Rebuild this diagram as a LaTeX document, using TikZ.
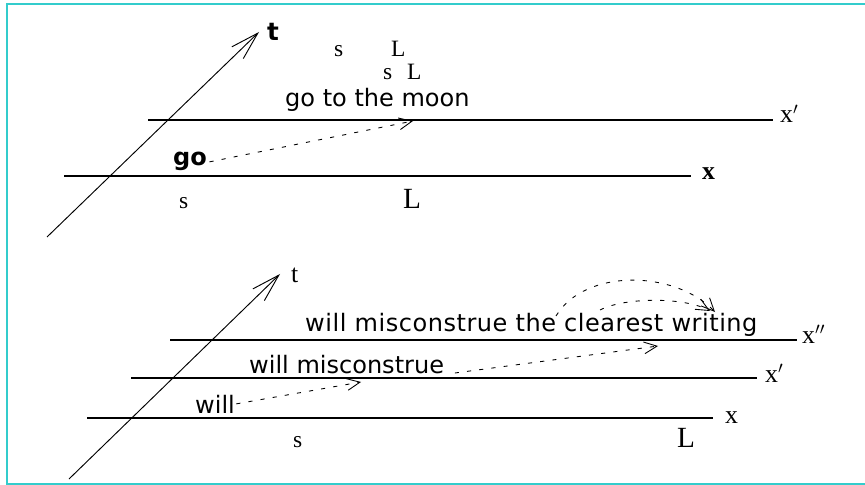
\documentclass[tikz,border=0pt]{standalone}
\usepackage{fontspec}
\setmainfont{Liberation Serif}
\newfontfamily\phrasefont{DejaVu Sans}
\newfontfamily\widephrasefont[LetterSpace=2.2]{DejaVu Sans}
\usepackage{xcolor}
\usepackage{tikz}
\usetikzlibrary{arrows.meta}
\definecolor{framecyan}{RGB}{51,204,204}
\tikzset{
  worldline/.style={line width=1.9pt},
  timeaxis/.style={line width=0.8pt,-{Straight Barb[length=24pt,width=14pt]}},
  hop/.style={line width=0.75pt,dash pattern=on 3.5pt off 7pt,
              -{Straight Barb[length=11pt,width=10pt]}},
  phrase/.style={anchor=base west,inner sep=0pt,
                 font=\phrasefont\fontsize{20.5}{24}\selectfont},
  sym/.style={anchor=base west,inner sep=0pt,font=\fontsize{20}{22}\selectfont},
  axislabel/.style={sym,font=\fontsize{22}{24}\selectfont},
  bigsym/.style={sym,font=\fontsize{25}{28}\selectfont},
}

\begin{document}
\begin{tikzpicture}[x=0.03cm,y=-0.03cm]
  \useasboundingbox (0,0) rectangle (865,485);
  \draw[framecyan,line width=1.7pt] (865,4) -- (7,4) -- (7,484) -- (865,484);

  % upper picture: go to the moon
  \coordinate (tTopFoot) at (47,237);
  \coordinate (tTopHead) at (259,32);
  \draw[timeaxis] (tTopFoot) -- (tTopHead);
  \node[phrase,font=\phrasefont\bfseries\fontsize{21}{24}\selectfont] (tTop) at (267,41) {t};

  \coordinate (xpTopL) at (148,120);
  \coordinate (xpTopR) at (773,120);
  \draw[worldline] (xpTopL) -- (xpTopR);
  \node[axislabel] (xpTop) at (780,123) {x$'$};

  \coordinate (xTopL) at (64,176);
  \coordinate (xTopR) at (691,176);
  \draw[worldline] (xTopL) -- (xTopR);
  \node[axislabel,font=\bfseries\fontsize{22}{24}\selectfont] (xTop) at (702,180) {x};

  \node[sym] (sTopA) at (334,57) {s};
  \node[sym] (LTopA) at (391,57) {L};
  \node[sym] (sTopB) at (383,80) {s};
  \node[sym] (LTopB) at (407,80) {L};
  \node[phrase] (goMoon) at (285,107) {go to the moon};

  \node[phrase,font=\phrasefont\bfseries\fontsize{20.5}{24}\selectfont] (go) at (173,166) {go};
  \coordinate (goTip) at (413,121);
  \draw[hop] ([xshift=2pt]go.east) -- (goTip);

  \node[sym] (sTopLow) at (179,209) {s};
  \node[bigsym] (LTopLow) at (403,209) {L};

  % lower picture: will misconstrue the clearest writing
  \coordinate (tLowFoot) at (69,479);
  \coordinate (tLowHead) at (280,274);
  \draw[timeaxis] (tLowFoot) -- (tLowHead);
  \node[sym,font=\fontsize{22}{24}\selectfont] (tLow) at (291,283) {t};

  \coordinate (xppL) at (170,340);
  \coordinate (xppR) at (797,340);
  \draw[worldline] (xppL) -- (xppR);
  \node[axislabel] (xpp) at (802,343) {x$''$};

  \coordinate (xpL) at (131,378);
  \coordinate (xpR) at (757,378);
  \draw[worldline] (xpL) -- (xpR);
  \node[axislabel] (xp) at (765,382) {x$'$};

  \coordinate (xL) at (87,418);
  \coordinate (xR) at (713,418);
  \draw[worldline] (xL) -- (xR);
  \node[axislabel] (x) at (725,423) {x};

  \node[sym] (sLow) at (293,447) {s};
  \node[bigsym] (LLow) at (677,447) {L};

  \node[phrase] (will) at (195,413) {will};
  \node[phrase] (willMis) at (249,373) {will misconstrue};
  \node[phrase,font=\widephrasefont\fontsize{20.5}{24}\selectfont] (willAll) at (305,331)
    {will misconstrue the clearest writing};

  \coordinate (willTip) at (361,382);
  \draw[hop] ([xshift=1pt]will.east) -- (willTip);
  \coordinate (willMisTip) at (658,346);
  \draw[hop] ([xshift=9pt]willMis.base east) -- (willMisTip);

  \coordinate (theStart) at (556,316);
  \coordinate (clearStart) at (600,310);
  \coordinate (theTip) at (715,312);
  \coordinate (clearTip) at (710,311);
  \draw[hop] (theStart) .. controls (585,268) and (675,270) .. (theTip);
  \draw[hop] (clearStart) .. controls (625,297) and (685,297) .. (clearTip);
\end{tikzpicture}
\end{document}
